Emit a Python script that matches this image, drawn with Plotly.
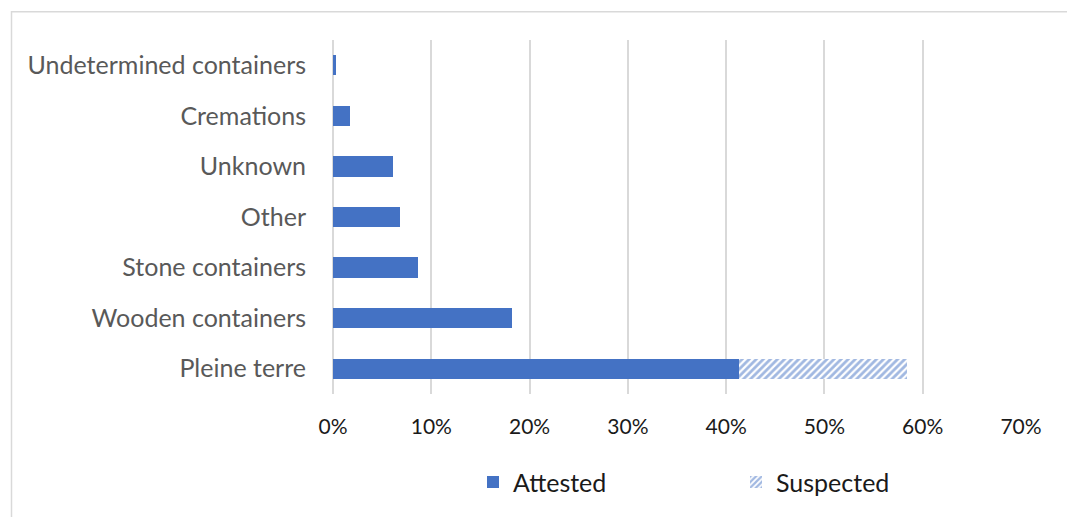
import plotly.graph_objects as go

# Burial types, listed top to bottom
categories = [
    "Undetermined containers",
    "Cremations",
    "Unknown",
    "Other",
    "Stone containers",
    "Wooden containers",
    "Pleine terre",
]
attested = [0.3, 1.7, 6.1, 6.8, 8.6, 18.2, 41.3]
suspected = [0, 0, 0, 0, 0, 0, 17.1]
x_ticks = [0, 10, 20, 30, 40, 50, 60, 70]
x_tick_labels = ["0%", "10%", "20%", "30%", "40%", "50%", "60%", "70%"]

BLUE = "#4472C4"
GRID = "#d9d9d9"

fig = go.Figure()
fig.add_trace(go.Bar(
    y=categories, x=attested, orientation="h", name="Attested",
    marker=dict(color=BLUE, line=dict(width=0)),
))
fig.add_trace(go.Bar(
    y=categories, x=suspected, orientation="h", name="Suspected",
    marker=dict(
        color="white",
        line=dict(width=0),
        pattern=dict(shape="/", fgcolor=BLUE, bgcolor="white", size=5, solidity=0.55),
    ),
))

# chart-area frame
L, R, T, B = 333, 46, 40, 120
W, H = 1067, 517
pw, ph = W - L - R, H - T - B


def px(x):
    return (x - L) / pw


def py(y):
    return (H - B - y) / ph


fig.add_shape(type="rect", xref="paper", yref="paper",
              x0=px(11.5), x1=px(1075), y0=py(11.5), y1=py(530),
              line=dict(color="#d9d9d9", width=1.5), fillcolor="rgba(0,0,0,0)",
              layer="below")

fig.update_layout(
    width=W, height=H,
    margin=dict(l=L, r=R, t=T, b=B),
    paper_bgcolor="white", plot_bgcolor="white",
    barmode="stack", bargap=0.6,
    font=dict(family="Lato, Open Sans, sans-serif", size=25, color="#595959"),
    xaxis=dict(
        range=[0, 70], tickvals=x_ticks, ticktext=x_tick_labels,
        showgrid=True, gridcolor=GRID, gridwidth=1.5,
        zeroline=True, zerolinecolor=GRID, zerolinewidth=1.5,
        showline=False, ticks="",
        tickfont=dict(size=21, color="#1a1a1a"),
        ticklabelstandoff=18,
    ),
    yaxis=dict(
        categoryorder="array", categoryarray=categories, autorange="reversed",
        showgrid=False, zeroline=False, showline=False, ticks="",
        ticklabelstandoff=26,
        tickfont=dict(size=25, color="#595959"),
    ),
    legend=dict(
        orientation="h", x=px(473), xanchor="left", y=py(486), yanchor="middle",
        font=dict(size=25, color="#1a1a1a"),
        entrywidth=218, traceorder="normal",
    ),
    showlegend=True,
)

fig.write_html("out.html")
